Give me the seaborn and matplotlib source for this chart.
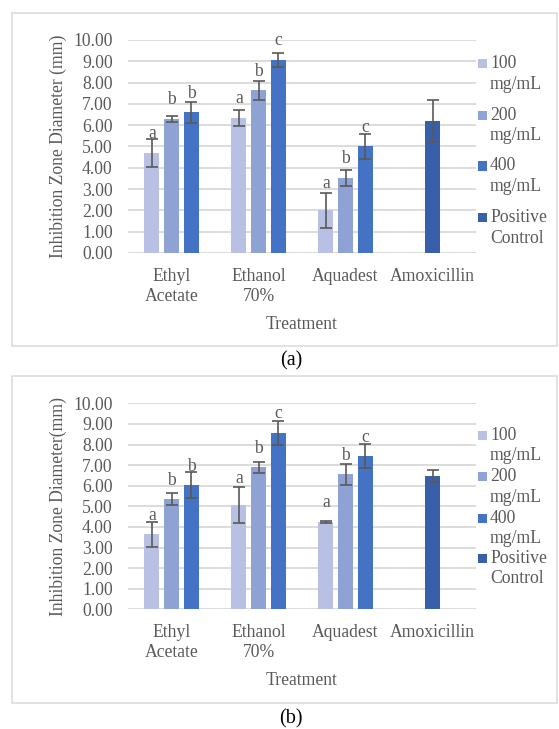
import matplotlib
matplotlib.use("Agg")
import matplotlib.pyplot as plt
from matplotlib.patches import Rectangle
import pandas as pd
import seaborn as sns

# categories and series
categories = ["Ethyl\nAcetate", "Ethanol\n70%", "Aquadest", "Amoxicillin"]
series = ["100 mg/mL", "200 mg/mL", "400 mg/mL", "Positive Control"]
legend_labels = ["100\nmg/mL", "200\nmg/mL", "400\nmg/mL", "Positive\nControl"]

# panel (a) - means and errors for the three extracts
a_100 = [4.70, 6.33, 2.00]
a_100_err = [0.67, 0.39, 0.83]
a_200 = [6.30, 7.63, 3.53]
a_200_err = [0.14, 0.46, 0.37]
a_400 = [6.60, 9.07, 5.00]
a_400_err = [0.49, 0.33, 0.60]
a_pos = 6.21
a_pos_err = 0.98

# panel (b)
b_100 = [3.64, 5.06, 4.25]
b_100_err = [0.60, 0.86, 0.05]
b_200 = [5.35, 6.89, 6.55]
b_200_err = [0.30, 0.27, 0.50]
b_400 = [6.03, 8.57, 7.43]
b_400_err = [0.65, 0.57, 0.58]
b_pos = 6.47
b_pos_err = 0.29

# significance letters (same for both panels)
letters_100 = ["a", "a", "a"]
letters_200 = ["b", "b", "b"]
letters_400 = ["b", "c", "c"]

colors = ["#B8C1E3", "#8EA3D4", "#4472C4", "#3860AA"]
grey = "#595959"
FS = 12.7
W, H = 559, 729

sns.set_style("white")
plt.rcParams["font.family"] = ["Liberation Serif", "DejaVu Serif"]
plt.rcParams["text.color"] = grey
plt.rcParams["axes.labelcolor"] = grey
plt.rcParams["xtick.color"] = grey
plt.rcParams["ytick.color"] = grey


def build_frame(v100, e100, v200, e200, v400, e400, vpos, epos):
    offsets = [-0.226, 0.0, 0.226]
    rows = []
    groups = [(v100, e100, letters_100), (v200, e200, letters_200), (v400, e400, letters_400)]
    for s, (vals, errs, lets) in enumerate(groups):
        for i in range(3):
            rows.append({"pos": i + offsets[s], "value": vals[i], "err": errs[i],
                         "series": series[s], "letter": lets[i]})
    rows.append({"pos": 3.0, "value": vpos, "err": epos, "series": series[3], "letter": ""})
    return pd.DataFrame(rows)


def draw_panel(ax, df, ylabel, xlab_y):
    sns.barplot(data=df, x="pos", y="value", hue="series", hue_order=series,
                palette=colors, native_scale=True, dodge=False, width=0.76,
                errorbar=None, legend=False, saturation=1, linewidth=0, ax=ax)
    ax.errorbar(df["pos"], df["value"], yerr=df["err"], fmt="none", ecolor=grey,
                elinewidth=1.2, capsize=4, capthick=1.2, zorder=5)
    for _, r in df.iterrows():
        if not r["letter"]:
            continue
        y = r["value"] + 0.7
        if y < r["value"] + r["err"]:
            y = r["value"] + r["err"] + 0.2
        ax.text(r["pos"], y, r["letter"], ha="center", va="baseline", fontsize=FS, color=grey)
    ax.set_xlim(-0.5, 3.5)
    ax.set_ylim(0, 10)
    ax.set_xticks(range(4))
    ax.set_xticklabels(categories, fontsize=FS, linespacing=1.25)
    ax.set_yticks(range(11))
    ax.set_yticklabels([f"{t:.2f}" for t in range(11)], fontsize=FS)
    ax.tick_params(axis="y", length=0, pad=11)
    ax.tick_params(axis="x", length=0, pad=10.5)
    ax.yaxis.grid(True, color="#D9D9D9", linewidth=1.3)
    ax.set_axisbelow(True)
    for sp in ax.spines.values():
        sp.set_visible(False)
    ax.set_xlabel("Treatment", fontsize=FS, va="top")
    ax.xaxis.set_label_coords(0.5, xlab_y)
    ax.set_ylabel(ylabel, fontsize=FS)
    ax.yaxis.set_label_coords(-0.175, 0.5)


def fx(x):
    return x / W


def fy(y):
    return 1 - y / H


def draw_legend(fig, baselines):
    for i, yb in enumerate(baselines):
        fig.add_artist(Rectangle((fx(478), fy(yb)), 9 / W, 9 / H, transform=fig.transFigure,
                                 facecolor=colors[i], edgecolor="none"))
        first, second = legend_labels[i].split("\n")
        fig.text(fx(490), fy(yb), first, fontsize=FS, va="baseline", ha="left", color=grey)
        fig.text(fx(490), fy(yb + 20.5), second, fontsize=FS, va="baseline", ha="left", color=grey)


fig = plt.figure(figsize=(W / 100, H / 100), dpi=100)

# panel (a)
ax1 = fig.add_axes([fx(128), fy(253), (476 - 128) / W, (253 - 40) / H])
draw_panel(ax1, build_frame(a_100, a_100_err, a_200, a_200_err, a_400, a_400_err, a_pos, a_pos_err),
           "Inhibition Zone Diameter (mm)", -0.295)
draw_legend(fig, [68.3, 120, 170.5, 222.5])
fig.add_artist(Rectangle((fx(12), fy(346)), (557 - 12) / W, (346 - 12.5) / H, transform=fig.transFigure,
                         fill=False, edgecolor="#D9D9D9", linewidth=1.1))
fig.text(fx(291), fy(361), "(a)", ha="center", va="center", fontsize=14.5, color="black")

# panel (b)
ax2 = fig.add_axes([fx(128), fy(609.3), (476 - 128) / W, (609.3 - 403.3) / H])
draw_panel(ax2, build_frame(b_100, b_100_err, b_200, b_200_err, b_400, b_400_err, b_pos, b_pos_err),
           "Inhibition Zone Diameter(mm)", -0.305)
draw_legend(fig, [440, 481, 522.7, 562.7])
fig.add_artist(Rectangle((fx(12), fy(703)), (557 - 12) / W, (703 - 376) / H, transform=fig.transFigure,
                         fill=False, edgecolor="#D9D9D9", linewidth=1.1))
fig.text(fx(291), fy(719), "(b)", ha="center", va="center", fontsize=14.5, color="black")

fig.savefig("out.png", dpi=100, facecolor="white")
